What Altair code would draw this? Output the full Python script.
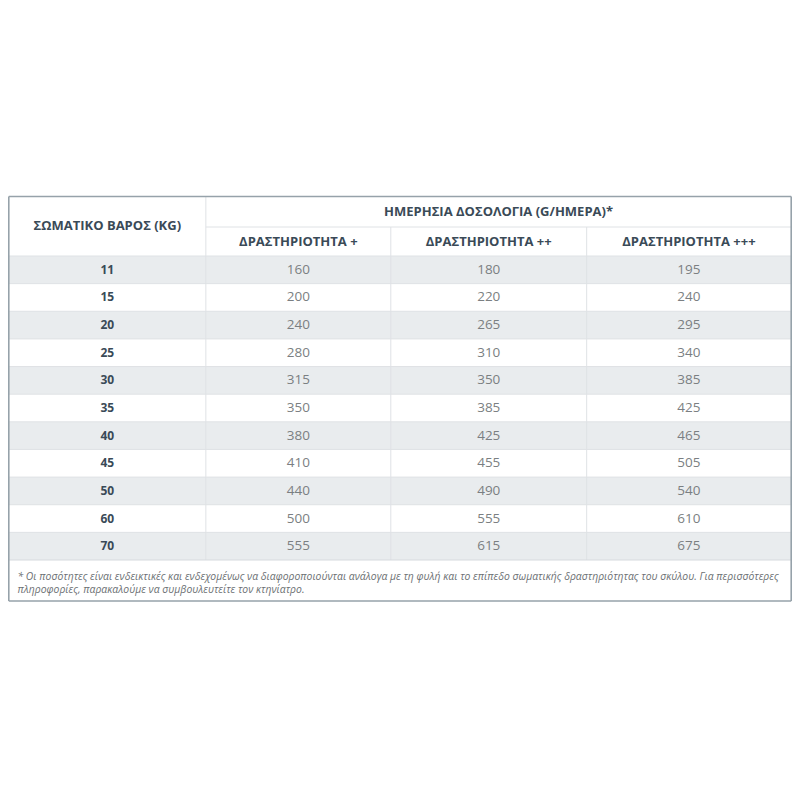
import altair as alt
import pandas as pd

# ---- data ----
weights = [11, 15, 20, 25, 30, 35, 40, 45, 50, 60, 70]
act1 = [160, 200, 240, 280, 315, 350, 380, 410, 440, 500, 555]
act2 = [180, 220, 265, 310, 350, 385, 425, 455, 490, 555, 615]
act3 = [195, 240, 295, 340, 385, 425, 465, 505, 540, 610, 675]
weight_header = "ΣΩΜΑΤΙΚΟ ΒΑΡΟΣ (KG)"
group_header = "ΗΜΕΡΗΣΙΑ ΔΟΣΟΛΟΓΙΑ (G/ΗΜΕΡΑ)*"
col_headers = ["ΔΡΑΣΤΗΡΙΟΤΗΤΑ +", "ΔΡΑΣΤΗΡΙΟΤΗΤΑ ++", "ΔΡΑΣΤΗΡΙΟΤΗΤΑ +++"]
footnote = [
    "* Οι ποσότητες είναι ενδεικτικές και ενδεχομένως να διαφοροποιούνται ανάλογα με τη φυλή και το επίπεδο σωματικής δραστηριότητας του σκύλου. Για περισσότερες",
    "πληροφορίες, παρακαλούμε να συμβουλευτείτε τον κτηνίατρο.",
]

# ---- layout (page coordinates) ----
col_edges = [6.8, 205, 391, 588, 793.7]
top, head1_bot, head2_bot = 196.5, 227, 256
row_h = (560 - 256) / len(weights)
row_edges = [head2_bot + i * row_h for i in range(len(weights) + 1)]
bottom = 601
col_mid = [(col_edges[i] + col_edges[i + 1]) / 2 for i in range(4)]

FONT = "Open Sans"
HEAD_COLOR = "#3a4a57"
VAL_COLOR = "#7b7f82"
GRAY = "#e9ecee"
LINE = "#dfe2e5"
BORDER = "#96a2aa"

X = alt.Scale(domain=[6, 794.5], range=[0, 784])
Y = alt.Scale(domain=[8, 608], range=[0, 600])

def xq(f):
    return alt.X(f, type="quantitative", scale=X, axis=None)

def yq(f):
    return alt.Y(f, type="quantitative", scale=Y, axis=None)

# striped rows
stripes = pd.DataFrame([
    {"x": col_edges[0], "x2": col_edges[-1], "y": row_edges[i], "y2": row_edges[i + 1]}
    for i in range(len(weights)) if i % 2 == 0
])
stripe_layer = alt.Chart(stripes).mark_rect(color=GRAY).encode(
    x=xq("x"), x2="x2", y=yq("y"), y2="y2")

# horizontal grid lines
hl = [{"x": col_edges[1], "x2": col_edges[-1], "y": head1_bot}]
for yv in row_edges[:-1]:
    hl.append({"x": col_edges[0], "x2": col_edges[-1], "y": yv})
hlines = alt.Chart(pd.DataFrame(hl)).mark_rule(color=LINE, strokeWidth=1).encode(
    x=xq("x"), x2="x2", y=yq("y"))

# vertical grid lines
vl = [{"x": col_edges[1], "y": top, "y2": row_edges[-1]}]
for xv in col_edges[2:4]:
    vl.append({"x": xv, "y": head1_bot, "y2": row_edges[-1]})
vlines = alt.Chart(pd.DataFrame(vl)).mark_rule(color=LINE, strokeWidth=1).encode(
    x=xq("x"), y=yq("y"), y2="y2")

# bottom line of table body
body_bottom = alt.Chart(pd.DataFrame([{"x": col_edges[0], "x2": col_edges[-1], "y": row_edges[-1]}])).mark_rule(
    color="#d6dade", strokeWidth=1).encode(x=xq("x"), x2="x2", y=yq("y"))

# outer border
border = alt.Chart(pd.DataFrame([
    {"x": col_edges[0], "x2": col_edges[-1], "y": top, "y2": top},
    {"x": col_edges[0], "x2": col_edges[-1], "y": bottom, "y2": bottom},
    {"x": col_edges[0], "x2": col_edges[0], "y": top, "y2": bottom},
    {"x": col_edges[-1], "x2": col_edges[-1], "y": top, "y2": bottom},
])).mark_rule(color=BORDER, strokeWidth=1.6).encode(
    x=xq("x"), x2="x2", y=yq("y"), y2="y2")

# header texts
heads = [{"t": weight_header, "x": col_mid[0], "y": (top + head2_bot) / 2},
         {"t": group_header, "x": (col_edges[1] + col_edges[-1]) / 2, "y": (top + head1_bot) / 2 + 0.5}]
for i, h in enumerate(col_headers):
    heads.append({"t": h, "x": col_mid[i + 1], "y": (head1_bot + head2_bot) / 2 + 0.5})
head_layer = alt.Chart(pd.DataFrame(heads)).mark_text(
    font=FONT, fontSize=13, fontWeight="bold", color=HEAD_COLOR, baseline="middle", align="center"
).encode(x=xq("x"), y=yq("y"), text="t:N")

# weight labels
wrows = pd.DataFrame({"t": [str(w) for w in weights],
                      "x": col_mid[0],
                      "y": [(row_edges[i] + row_edges[i + 1]) / 2 for i in range(len(weights))]})
weight_layer = alt.Chart(wrows).mark_text(
    font=FONT, fontSize=12, fontWeight="bold", color=HEAD_COLOR, baseline="middle", align="center"
).encode(x=xq("x"), y=yq("y"), text="t:N")

# values
vals = []
for c, series in enumerate([act1, act2, act3]):
    for i, v in enumerate(series):
        vals.append({"t": str(v), "x": col_mid[c + 1], "y": (row_edges[i] + row_edges[i + 1]) / 2})
val_layer = alt.Chart(pd.DataFrame(vals)).mark_text(
    font=FONT, fontSize=13.5, color=VAL_COLOR, baseline="middle", align="center"
).encode(x=xq("x"), y=yq("y"), text="t:N")

# footnote
fn = pd.DataFrame({"t": footnote, "x": 15.5, "y": [576.5, 589.5]})
fn_layer = alt.Chart(fn).mark_text(
    font=FONT, fontSize=10.4, fontStyle="italic", color="#6c7073", baseline="middle", align="left"
).encode(x=xq("x"), y=yq("y"), text="t:N")

chart = alt.layer(
    stripe_layer, hlines, vlines, body_bottom, border, head_layer, weight_layer, val_layer, fn_layer
).properties(
    width=784, height=600, padding=0, autosize="none", background="white"
).configure_view(stroke=None)

chart.save("out.html", embed_options={"renderer": "svg", "actions": False})
